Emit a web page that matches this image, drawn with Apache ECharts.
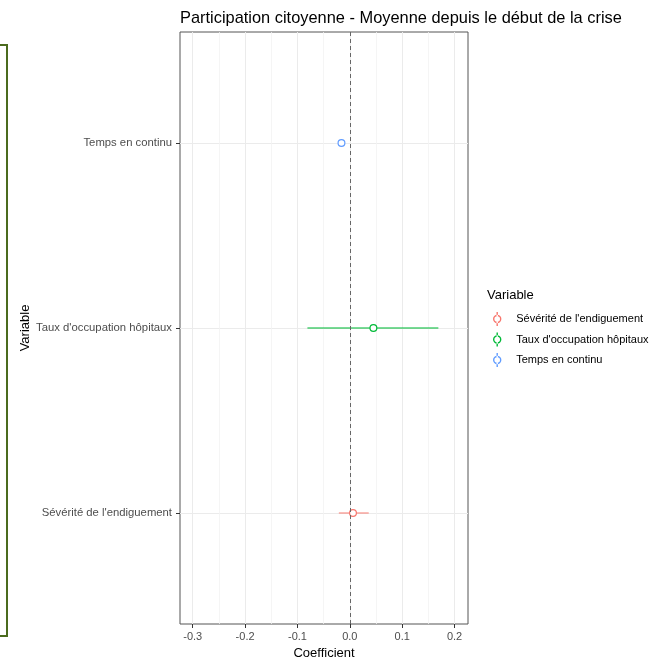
<!DOCTYPE html>
<html>
<head>
<meta charset="utf-8">
<script src="https://cdn.jsdelivr.net/npm/echarts@6/dist/echarts.min.js"></script>
<style>
  html, body { margin: 0; padding: 0; background: #fff; }
  #chart { width: 654px; height: 658px; }
</style>
</head>
<body>
<div id="chart"></div>
<script>
// variables, bottom to top on the y axis
const variables = ['Sévérité de l\'endiguement', 'Taux d\'occupation hôpitaux', 'Temps en continu']
const colors = ['#F8766D', '#00BA38', '#619CFF']
// coefficient estimates and interval bounds
const estimate = [0.006, 0.045, -0.016]
const lower = [-0.021, -0.081, -0.020]
const upper = [0.036, 0.169, -0.012]
const xMajorTicks = [-0.3, -0.2, -0.1, 0.0, 0.1, 0.2]
const xMinorTicks = [-0.25, -0.15, -0.05, 0.05, 0.15]

const chart = echarts.init(document.getElementById('chart'))
const font = 'Liberation Sans, Arial, sans-serif'

const series = variables.map((name, i) => ({
	type: 'custom',
	name: name,
	xAxisIndex: 0,
	yAxisIndex: 0,
	itemStyle: { color: colors[i] },
	encode: { x: [1, 2, 3], y: 0 },
	data: [[i + 1, lower[i], estimate[i], upper[i]]],
	renderItem(params, api) {
		const y = api.value(0)
		const a = api.coord([api.value(1), y])
		const m = api.coord([api.value(2), y])
		const b = api.coord([api.value(3), y])
		return {
			type: 'group',
			children: [
				{
					type: 'line',
					shape: { x1: a[0], y1: a[1], x2: b[0], y2: b[1] },
					style: { stroke: colors[i], opacity: 0.7, lineWidth: 1.4 }
				},
				{
					type: 'circle',
					shape: { cx: m[0], cy: m[1], r: 3.4 },
					style: { fill: '#fff', stroke: colors[i], lineWidth: 1.2 }
				}
			]
		}
	},
	markLine: i === 0 ? {
		silent: true,
		symbol: 'none',
		label: { show: false },
		lineStyle: { color: '#666', type: [4, 3], width: 1 },
		data: [{ xAxis: 0 }]
	} : undefined
}))

const option = {
	animation: false,
	textStyle: { fontFamily: font },
	title: [
		{
			text: 'Participation citoyenne - Moyenne depuis le début de la crise',
			left: 175, top: 5,
			textStyle: { fontSize: 16.4, fontWeight: 'normal', color: '#000', fontFamily: font }
		},
		{
			text: 'Variable',
			left: 482, top: 284,
			textStyle: { fontSize: 13, fontWeight: 'normal', color: '#000', fontFamily: font }
		}
	],
	legend: {
		orient: 'vertical',
		left: 488, top: 307,
		itemWidth: 10, itemHeight: 14,
		itemGap: 6.5,
		icon: 'path://M4.5,0 L5.5,0 L5.5,3 L4.5,3 Z M4.5,7 L5.5,7 L5.5,10 L4.5,10 Z M2,5 A3,3 0 1,0 8,5 A3,3 0 1,0 2,5 Z M3,5 A2,2 0 1,1 7,5 A2,2 0 1,1 3,5 Z',
		textStyle: { fontSize: 11, color: '#000', padding: [0, 0, 0, 9], fontFamily: font },
		data: variables
	},
	grid: {
		left: 180, right: 186, top: 32, bottom: 34,
		outerBoundsMode: 'none',
		containLabel: false,
		show: true, borderColor: '#555', borderWidth: 1, backgroundColor: 'transparent'
	},
	xAxis: [
		{
			type: 'value',
			min: -0.3243, max: 0.2256,
			name: 'Coefficient',
			nameLocation: 'middle',
			nameGap: 22,
			nameTextStyle: { fontSize: 13, color: '#000' },
			axisLine: { show: false, onZero: false },
			axisTick: { show: true, length: 4, lineStyle: { color: '#333' }, customValues: xMajorTicks },
			axisLabel: {
				customValues: xMajorTicks,
				fontSize: 11, color: '#4d4d4d', margin: 7,
				formatter: v => v.toFixed(1)
			},
			splitLine: { show: true, lineStyle: { color: '#ebebeb', width: 1 } }
		},
		{
			type: 'value',
			min: -0.3243, max: 0.2256,
			position: 'bottom',
			axisLine: { show: false, onZero: false },
			axisTick: { show: false, customValues: xMinorTicks },
			axisLabel: { show: false, customValues: xMinorTicks },
			splitLine: { show: true, lineStyle: { color: '#f2f2f2', width: 0.8 } }
		}
	],
	yAxis: {
		type: 'value',
		min: 0.4, max: 3.6,
		name: 'Variable',
		nameLocation: 'middle',
		nameGap: 145,
		nameRotate: 90,
		nameTextStyle: { fontSize: 13, color: '#000' },
		axisLine: { show: false, onZero: false },
		axisTick: { show: true, length: 4, lineStyle: { color: '#333' }, customValues: [1, 2, 3] },
		axisLabel: {
			customValues: [1, 2, 3],
			fontSize: 11.3, color: '#4d4d4d', margin: 8,
			formatter: v => variables[Math.round(v) - 1] || ''
		},
		splitLine: { show: true, lineStyle: { color: '#ebebeb', width: 1 } }
	},
	graphic: [
		{
			type: 'rect',
			shape: { x: -10, y: 45, width: 17, height: 591 },
			style: { fill: 'none', stroke: '#4b6b1e', lineWidth: 2 }
		}
	],
	series: series
}

chart.setOption(option)
</script>
</body>
</html>
